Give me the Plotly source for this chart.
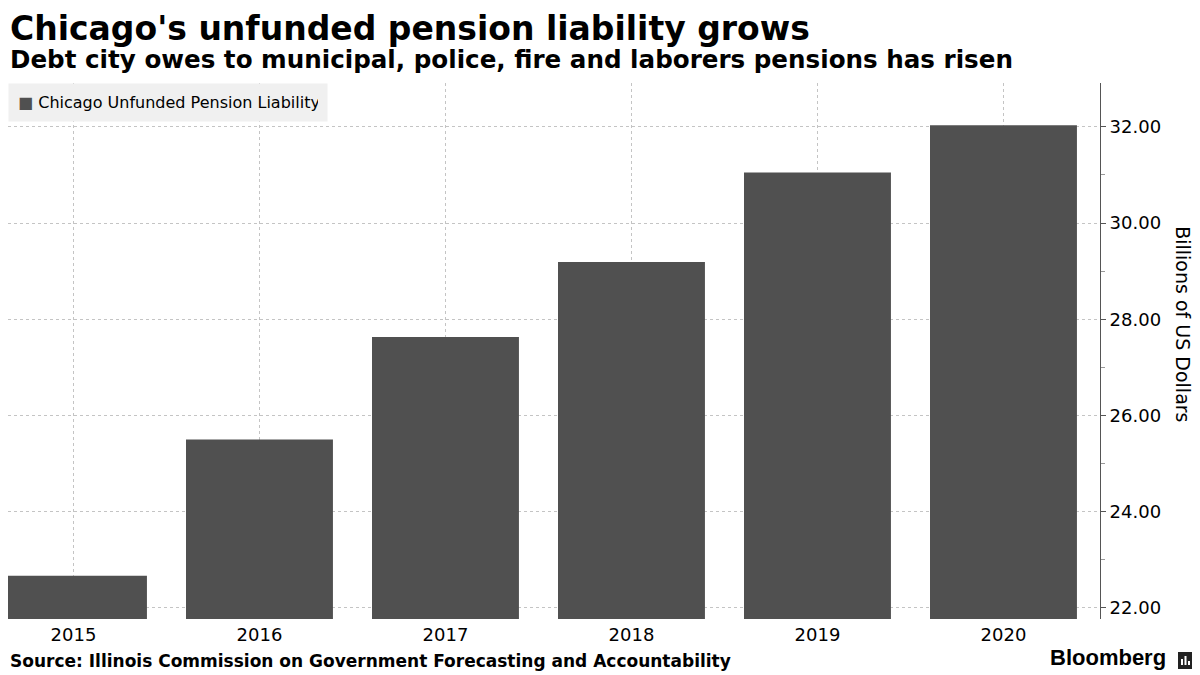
import plotly.graph_objects as go

years = ["2015", "2016", "2017", "2018", "2019", "2020"]
liability = [22.67, 25.5, 27.63, 29.19, 31.05, 32.03]
y_ticks = [22, 24, 26, 28, 30, 32]
series_name = "Chicago Unfunded Pension Liability"

BAR = "#505050"
GRID = "#c4c4c4"
FONT = "DejaVu Sans"

fig = go.Figure()

fig.add_trace(go.Bar(
    x=years,
    y=liability,
    marker=dict(color=BAR, line=dict(width=0)),
    name=series_name,
    showlegend=False
))

# the page adds an 8px body margin, so the figure is 8px smaller each way
fig.update_layout(
    width=1192,
    height=667,
    margin=dict(l=0, r=100, t=75, b=56),
    plot_bgcolor="white",
    paper_bgcolor="white",
    bargap=0.21,
    font=dict(family=FONT, color="black"),
    xaxis=dict(
        type="category",
        range=[-0.352, 5.519],
        showgrid=True,
        gridcolor=GRID,
        griddash="3px,3px",
        gridwidth=1,
        ticks="",
        ticklabelstandoff=3,
        tickfont=dict(family=FONT, size=18, color="black"),
        showline=False,
        zeroline=False
    ),
    yaxis=dict(
        side="right",
        range=[21.77, 32.91],
        tickvals=y_ticks,
        tickformat=".2f",
        showgrid=True,
        gridcolor=GRID,
        griddash="3px,3px",
        gridwidth=1,
        ticks="outside",
        ticklen=5,
        tickcolor="#555555",
        showline=True,
        linecolor="#555555",
        linewidth=1,
        tickfont=dict(family=FONT, size=18, color="black"),
        zeroline=False,
        minor=dict(dtick=1, ticks="outside", ticklen=4, tickcolor="#999999", showgrid=False)
    ),
    annotations=[
        dict(text="<b>Chicago's unfunded pension liability grows</b>",
             xref="paper", yref="paper", x=0, y=1, xanchor="left", yanchor="top",
             yshift=76, showarrow=False,
             font=dict(family=FONT, size=33, color="black")),
        dict(text="<b>Debt city owes to municipal, police, fire and laborers pensions has risen</b>",
             xref="paper", yref="paper", x=0, y=1, xanchor="left", yanchor="top",
             yshift=40, showarrow=False,
             font=dict(family=FONT, size=24.6, color="black")),
        dict(text="<span style='color:%s'>■</span> %s" % (BAR, series_name),
             xref="paper", yref="paper", x=0, y=1, xanchor="left", yanchor="top",
             showarrow=False, align="left", width=300,
             bgcolor="#f0f0f0", borderpad=9,
             font=dict(family=FONT, size=16, color="black")),
        dict(text="Billions of US Dollars",
             xref="paper", yref="paper", x=1, y=0.55, xanchor="center", yanchor="middle",
             xshift=83, showarrow=False, textangle=90,
             font=dict(family=FONT, size=19, color="black")),
        dict(text="<b>Source: Illinois Commission on Government Forecasting and Accountability</b>",
             xref="paper", yref="paper", x=0, y=0, xanchor="left", yanchor="top",
             yshift=-30, showarrow=False,
             font=dict(family=FONT, size=17, color="black")),
        dict(text="<b>Bloomberg</b>",
             xref="paper", yref="paper", x=1, y=0, xanchor="right", yanchor="top",
             xshift=68, yshift=-24, showarrow=False,
             font=dict(family="Liberation Sans", size=22, color="black")),
    ],
    shapes=[
        # small Bloomberg icon next to the wordmark
        dict(type="rect", xref="paper", yref="paper",
             xsizemode="pixel", ysizemode="pixel", xanchor=1.0, yanchor=0.0,
             x0=78, x1=92, y0=-50, y1=-33,
             line=dict(width=0), fillcolor="#222222"),
        dict(type="rect", xref="paper", yref="paper",
             xsizemode="pixel", ysizemode="pixel", xanchor=1.0, yanchor=0.0,
             x0=81, x1=83, y0=-46, y1=-40,
             line=dict(width=0), fillcolor="white"),
        dict(type="rect", xref="paper", yref="paper",
             xsizemode="pixel", ysizemode="pixel", xanchor=1.0, yanchor=0.0,
             x0=84.5, x1=86.5, y0=-46, y1=-37,
             line=dict(width=0), fillcolor="white"),
        dict(type="rect", xref="paper", yref="paper",
             xsizemode="pixel", ysizemode="pixel", xanchor=1.0, yanchor=0.0,
             x0=88, x1=90, y0=-46, y1=-42,
             line=dict(width=0), fillcolor="white"),
    ]
)

fig.write_html("out.html")
